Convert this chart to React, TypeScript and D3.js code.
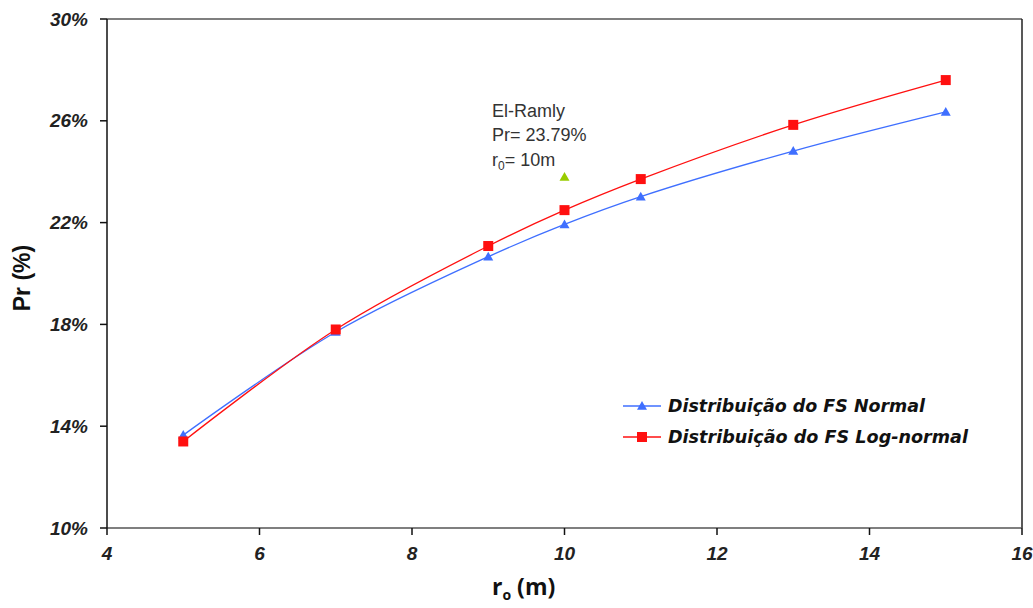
import React from "react";
import * as d3 from "d3";

const xValues = [5, 7, 9, 10, 11, 13, 15];
const normalSeries = [13.65, 17.7, 20.66, 21.93, 23.02, 24.81, 26.35];
const lognormalSeries = [13.4, 17.8, 21.08, 22.49, 23.71, 25.84, 27.6];
const elRamly = { x: 10, y: 23.79 };
const xTicks = [4, 6, 8, 10, 12, 14, 16];
const yTicks = [10, 14, 18, 22, 26, 30];
const seriesNames = ["Distribuição do FS Normal", "Distribuição do FS Log-normal"];

const W = 1033;
const H = 608;
const left = 107;
const right = 1022;
const top = 19;
const bottom = 528;

export default function App() {
  const x = d3.scaleLinear().domain([4, 16]).range([left, right]);
  const y = d3.scaleLinear().domain([10, 30]).range([bottom, top]);
  const line = d3
    .line<[number, number]>()
    .x((d) => x(d[0]))
    .y((d) => y(d[1]))
    .curve(d3.curveCatmullRom.alpha(0.5));
  const normPts = xValues.map((v, i) => [v, normalSeries[i]] as [number, number]);
  const logPts = xValues.map((v, i) => [v, lognormalSeries[i]] as [number, number]);
  const blue = "#3f6fff";
  const red = "#ff1010";
  const tri = (cx: number, cy: number, s: number) =>
    `M${cx},${cy - s}L${cx + s},${cy + s * 0.75}L${cx - s},${cy + s * 0.75}Z`;
  const font = "Arial, 'Liberation Sans', sans-serif";
  const legendFont = "'DejaVu Sans', Verdana, sans-serif";

  return (
    <svg
      width={W}
      height={H}
      style={{ position: "absolute", left: 0, top: 0, background: "#fff" }}
      fontFamily={font}
    >
      {/* frame */}
      <line x1={left} x2={right} y1={top} y2={top} stroke="#555" strokeWidth={1.5} />
      <line x1={right} x2={right} y1={top} y2={bottom} stroke="#222" strokeWidth={1.5} />
      <line x1={left} x2={right} y1={bottom} y2={bottom} stroke="#555" strokeWidth={1.5} />
      <line x1={left} x2={left} y1={top} y2={bottom} stroke="#111" strokeWidth={1.5} />
      {yTicks.map((t) => (
        <g key={"y" + t}>
          <line x1={left - 7} x2={left} y1={y(t)} y2={y(t)} stroke="#111" strokeWidth={1.5} />
          <text
            x={88}
            y={y(t)}
            dy="0.35em"
            textAnchor="end"
            fontSize={19}
            fontWeight="bold"
            fontStyle="italic"
            fill="#222"
          >
            {t}%
          </text>
        </g>
      ))}
      {xTicks.map((t) => (
        <g key={"x" + t}>
          <line x1={x(t)} x2={x(t)} y1={bottom} y2={bottom + 7} stroke="#111" strokeWidth={1.5} />
          <text
            x={x(t)}
            y={560}
            textAnchor="middle"
            fontSize={19}
            fontWeight="bold"
            fontStyle="italic"
            fill="#222"
          >
            {t}
          </text>
        </g>
      ))}
      <text
        transform="translate(30,278) rotate(-90)"
        textAnchor="middle"
        fontSize={23}
        fontWeight="bold"
        fill="#111"
      >
        Pr (%)
      </text>
      <text x={492} y={595} fontSize={23} fontWeight="bold" fill="#111" fontFamily="'Open Sans', sans-serif">
        r<tspan fontSize={14} dy={5}>o</tspan>
        <tspan dy={-5}> (m)</tspan>
      </text>

      {/* series */}
      <path d={line(normPts) || ""} fill="none" stroke={blue} strokeWidth={1.3} />
      <path d={line(logPts) || ""} fill="none" stroke={red} strokeWidth={1.3} />
      {normPts.map((p, i) => (
        <path key={"n" + i} d={tri(x(p[0]), y(p[1]), 5)} fill={blue} />
      ))}
      {logPts.map((p, i) => (
        <rect key={"l" + i} x={x(p[0]) - 5} y={y(p[1]) - 5} width={10} height={10} fill={red} />
      ))}
      <path d={tri(x(elRamly.x), y(elRamly.y), 5)} fill="#99cc00" />

      {/* annotation */}
      <g fontSize={18} fill="#333">
        <text x={492} y={117}>El-Ramly</text>
        <text x={492} y={141}>Pr= 23.79%</text>
        <text x={492} y={166}>
          r<tspan fontSize={12} dy={4}>0</tspan>
          <tspan dy={-4}>= 10m</tspan>
        </text>
      </g>

      {/* legend */}
      <g fontFamily={legendFont}>
        <line x1={623} x2={661} y1={406} y2={406} stroke={blue} strokeWidth={1.5} />
        <path d={tri(642, 406, 5)} fill={blue} />
        <text x={668} y={406} dy="0.35em" fontSize={17} fontWeight="bold" fontStyle="italic" fill="#111" textLength={257} lengthAdjust="spacingAndGlyphs">
          {seriesNames[0]}
        </text>
        <line x1={623} x2={661} y1={437} y2={437} stroke={red} strokeWidth={1.5} />
        <rect x={637} y={432} width={10} height={10} fill={red} />
        <text x={668} y={437} dy="0.35em" fontSize={17} fontWeight="bold" fontStyle="italic" fill="#111" textLength={300} lengthAdjust="spacingAndGlyphs">
          {seriesNames[1]}
        </text>
      </g>
    </svg>
  );
}
